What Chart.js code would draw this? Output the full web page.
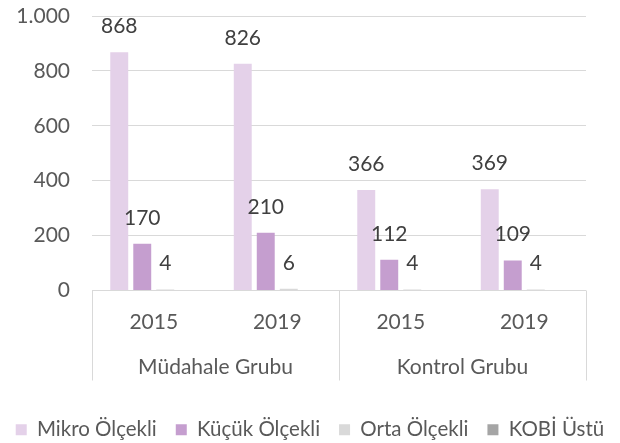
<!DOCTYPE html>
<html>
<head>
<meta charset="utf-8">
<script src="https://cdn.jsdelivr.net/npm/chart.js@4.4.0/dist/chart.umd.min.js"></script>
<style>
  html, body { margin: 0; padding: 0; background: #fff; }
  #wrap { width: 620px; height: 443px; }
</style>
</head>
<body>
<div id="wrap"><canvas id="grafica"></canvas></div>
<script>
// categorías (año) y grupos
const years = ["2015", "2019", "2015", "2019"];
const groups = ["Müdahale Grubu", "Kontrol Grubu"];

// series
const mikro = [868, 826, 366, 369];
const kucuk = [170, 210, 112, 109];
const orta = [4, 6, 4, 4];
const kobiUstu = [0, 0, 0, 0];

const yTicks = [0, 200, 400, 600, 800, 1000];

const FONT = "Lato";

function formatTR(v) {
  return String(v).replace(/\B(?=(\d{3})+(?!\d))/g, ".");
}

// etiquetas encima de las barras
const valueLabels = {
  id: "valueLabels",
  afterDatasetsDraw(chart) {
    const ctx = chart.ctx;
    ctx.save();
    ctx.font = "21px " + FONT;
    ctx.fillStyle = "#404040";
    ctx.textAlign = "center";
    ctx.textBaseline = "middle";
    chart.data.datasets.forEach((ds, i) => {
      if (!ds.showLabel) return;
      chart.getDatasetMeta(i).data.forEach((bar, j) => {
        ctx.fillText(formatTR(ds.data[j]), bar.x, bar.y - 26);
      });
    });
    ctx.restore();
  },
};

// eje de categorías con dos niveles
const groupAxis = {
  id: "groupAxis",
  afterDraw(chart) {
    const ctx = chart.ctx;
    const xs = chart.scales.x;
    const area = chart.chartArea;
    const bottom = area.bottom + 90;
    const perGroup = years.length / groups.length;
    const step = (xs.right - xs.left) / years.length;
    ctx.save();
    ctx.strokeStyle = "#d9d9d9";
    ctx.lineWidth = 1;
    for (let g = 0; g <= groups.length; g++) {
      const x = Math.round(xs.left + g * perGroup * step) + 0.5;
      ctx.beginPath();
      ctx.moveTo(x, area.bottom);
      ctx.lineTo(x, bottom);
      ctx.stroke();
    }
    ctx.font = "21px " + FONT;
    ctx.fillStyle = "#595959";
    ctx.textAlign = "center";
    ctx.textBaseline = "middle";
    groups.forEach((name, g) => {
      const cx = xs.left + (g + 0.5) * perGroup * step;
      ctx.fillText(name, cx, area.bottom + 77);
    });
    ctx.restore();
  },
};

const ctx = document.getElementById("grafica");

new Chart(ctx, {
  type: "bar",
  data: {
    labels: years,
    datasets: [
      { label: "Mikro Ölçekli", data: mikro, backgroundColor: "#e4d1e9", showLabel: true },
      { label: "Küçük Ölçekli", data: kucuk, backgroundColor: "#c59ecf", showLabel: true },
      { label: "Orta Ölçekli", data: orta, backgroundColor: "#d9d9d9", showLabel: true },
      { label: "KOBİ Üstü", data: kobiUstu, backgroundColor: "#a5a5a5", showLabel: false },
    ],
  },
  options: {
    responsive: true,
    maintainAspectRatio: false,
    animation: false,
    categoryPercentage: 0.745,
    barPercentage: 0.78,
    layout: { padding: { left: -12, right: -12, top: 16, bottom: -7 } },
    plugins: {
      legend: {
        position: "bottom",
        labels: {
          font: { family: FONT, size: 20.5 },
          color: "#595959",
          boxWidth: 11,
          boxHeight: 11,
          padding: 19,
        },
      },
      tooltip: { enabled: false },
    },
    scales: {
      x: {
        grid: { display: false },
        border: { display: false },
        ticks: {
          font: { family: FONT, size: 21 },
          color: "#595959",
          padding: 11,
        },
        afterFit(axis) { axis.height = 110; },
      },
      y: {
        min: 0,
        max: 1000,
        afterBuildTicks(axis) { axis.ticks = yTicks.map((v) => ({ value: v })); },
        grid: { color: "#d9d9d9", tickLength: 22, tickColor: "rgba(0,0,0,0)" },
        border: { display: false },
        ticks: {
          font: { family: FONT, size: 21 },
          color: "#595959",
          padding: 0,
          callback: (v) => formatTR(v),
        },
        afterFit(axis) { axis.width = 104; },
      },
      // margen derecho vacío
      yDer: {
        position: "right",
        grid: { display: false },
        border: { display: false },
        ticks: { display: false },
        afterFit(axis) { axis.width = 46; },
      },
    },
  },
  plugins: [valueLabels, groupAxis],
});
</script>
</body>
</html>
